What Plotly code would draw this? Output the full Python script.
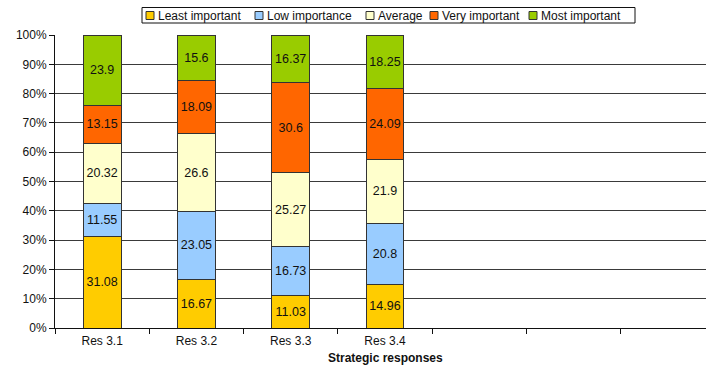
import plotly.graph_objects as go

# Strategic responses and the share of each importance rating (%)
categories = ["Res 3.1", "Res 3.2", "Res 3.3", "Res 3.4"]
least_important = [31.08, 16.67, 11.03, 14.96]
low_importance = [11.55, 23.05, 16.73, 20.8]
average = [20.32, 26.6, 25.27, 21.9]
very_important = [13.15, 18.09, 30.6, 24.09]
most_important = [23.9, 15.6, 16.37, 18.25]
y_ticks = list(range(0, 101, 10))

series = [
    ("Least important", least_important, "#FFCC00"),
    ("Low importance", low_importance, "#99CCFF"),
    ("Average", average, "#FFFFCC"),
    ("Very important", very_important, "#FF6600"),
    ("Most important", most_important, "#99CC00"),
]

FONT = "Arial, Liberation Sans, sans-serif"
INK = "#111111"
EDGE = "#333333"
positions = list(range(len(categories)))

# plot area in pixels
L, R, T, B = 55, 706, 35, 328
W_PLOT, H_PLOT = R - L, B - T


def px_x(px):
    return (px - L) / W_PLOT


def px_y(py):
    return (B - py) / H_PLOT


fig = go.Figure()
for name, vals, color in series:
    fig.add_trace(go.Bar(
        name=name,
        x=positions,
        y=vals,
        text=[f"{v:g}" for v in vals],
        texttemplate="%{text}",
        textposition="inside",
        insidetextanchor="middle",
        textangle=0,
        textfont=dict(family=FONT, size=12.5, color=INK),
        marker=dict(color=color, line=dict(color=EDGE, width=1)),
        width=0.4,
        showlegend=False,
    ))

# compact boxed legend across the top: swatch + label per series
legend_box = (142, 7.5, 635, 23)
legend_starts = [146, 255, 366, 430, 529]
legend_cy = 15.5
shapes = [dict(type="rect", xref="paper", yref="paper",
               x0=px_x(legend_box[0]), x1=px_x(legend_box[2]),
               y0=px_y(legend_box[3]), y1=px_y(legend_box[1]),
               line=dict(color=INK, width=1), fillcolor="white", layer="above")]
annotations = []
for (name, _, color), sx in zip(series, legend_starts):
    shapes.append(dict(type="rect", xref="paper", yref="paper",
                       x0=px_x(sx), x1=px_x(sx + 8),
                       y0=px_y(legend_cy + 4), y1=px_y(legend_cy - 4),
                       line=dict(color=EDGE, width=1), fillcolor=color,
                       layer="above"))
    annotations.append(dict(text=name, xref="paper", yref="paper",
                            x=px_x(sx + 10), y=px_y(legend_cy),
                            xanchor="left", yanchor="middle",
                            showarrow=False,
                            font=dict(family=FONT, size=12, color=INK)))

annotations.append(dict(
    text="<b>Strategic responses</b>",
    x=px_x(385), xref="paper",
    y=px_y(358), yref="paper",
    xanchor="center", yanchor="middle",
    showarrow=False,
    font=dict(family=FONT, size=12, color=INK),
))

fig.update_layout(
    barmode="stack",
    barnorm="percent",
    width=706,
    height=367,
    margin=dict(l=L, r=706 - R, t=T, b=367 - B),
    paper_bgcolor="white",
    plot_bgcolor="white",
    font=dict(family=FONT, size=12, color=INK),
    uniformtext=dict(minsize=8, mode="show"),
    showlegend=False,
    xaxis=dict(
        range=[-0.5, 6.405],
        tickvals=positions,
        ticktext=categories,
        ticks="",
        ticklabelstandoff=2,
        showline=True,
        linecolor=INK,
        linewidth=1,
        showgrid=False,
        zeroline=False,
        tickfont=dict(family=FONT, size=12, color=INK),
        minor=dict(tick0=-0.5, dtick=1, ticks="outside", ticklen=5,
                   tickcolor=INK, showgrid=False),
    ),
    yaxis=dict(
        range=[0, 100],
        tickvals=y_ticks,
        ticktext=[f"{t}%" for t in y_ticks],
        ticks="outside",
        ticklen=5,
        tickcolor=INK,
        showline=True,
        linecolor=INK,
        linewidth=1,
        showgrid=True,
        gridcolor="#3a3a3a",
        gridwidth=1,
        zeroline=False,
        tickfont=dict(family=FONT, size=12, color=INK),
    ),
    shapes=shapes,
    annotations=annotations,
)

fig.write_html("out.html")
